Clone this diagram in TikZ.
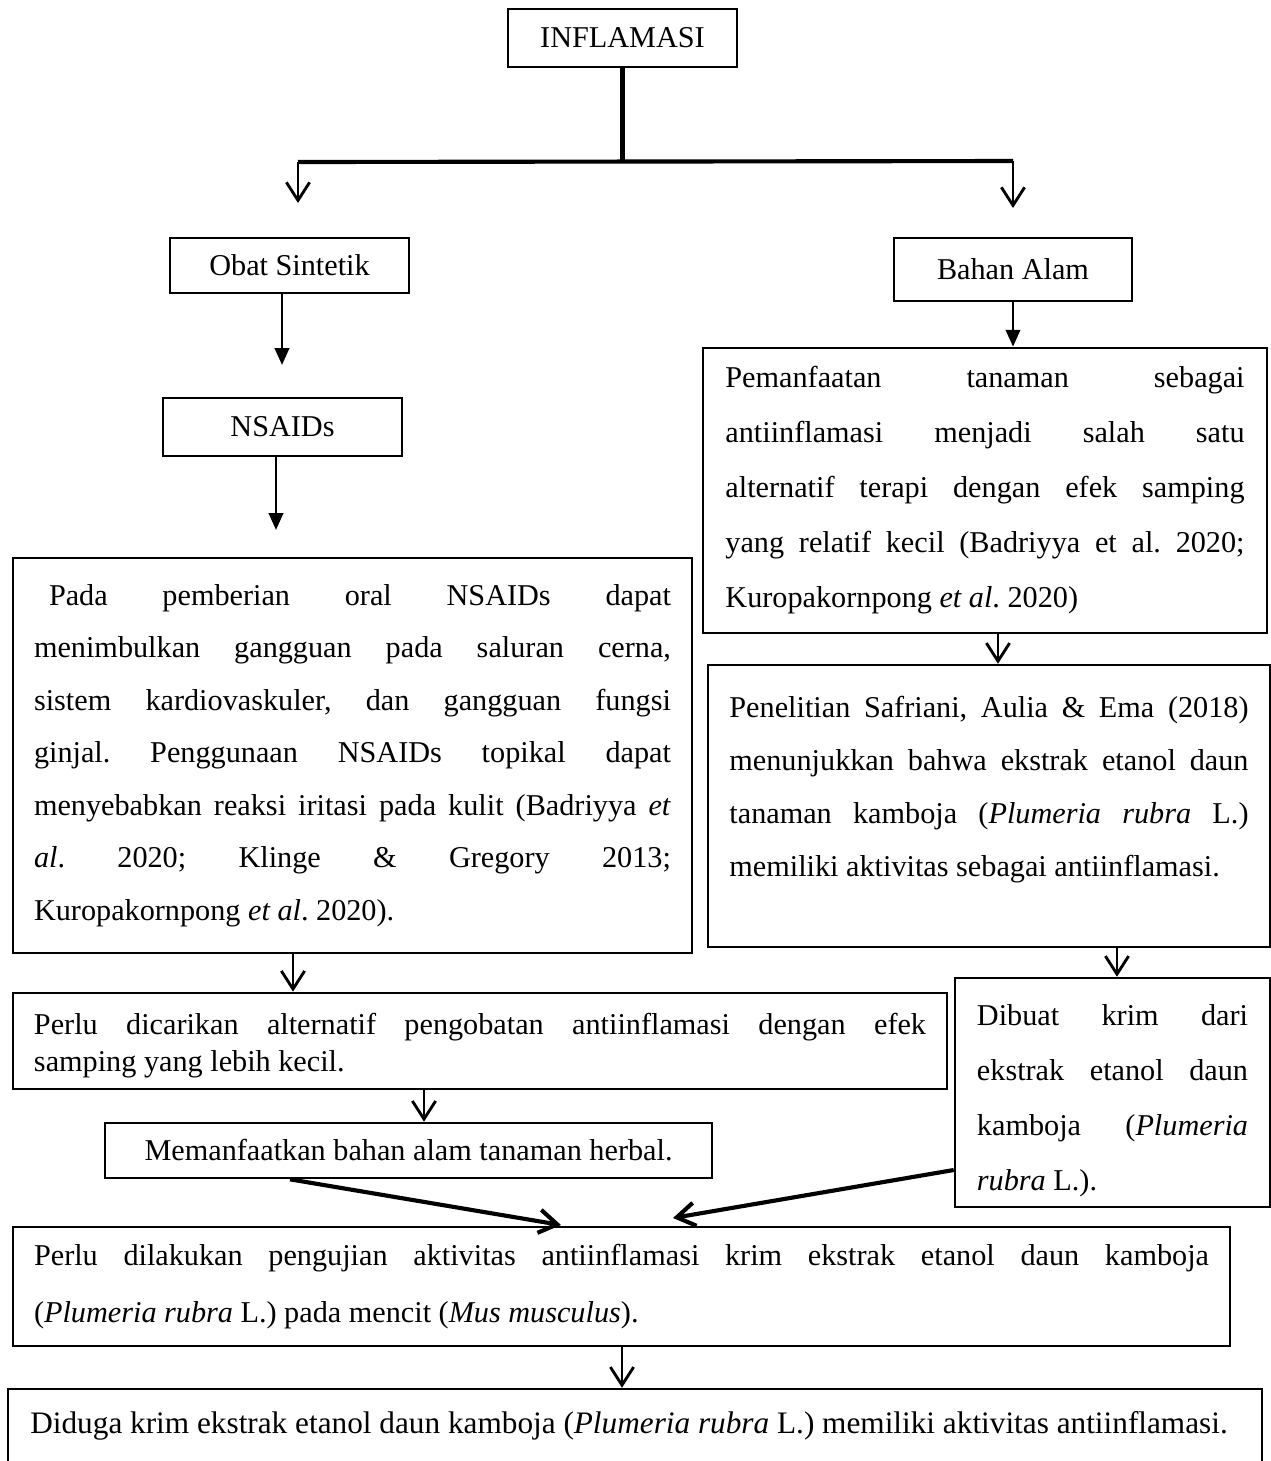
\documentclass[tikz,border=0pt]{standalone}
\usepackage{fontspec}
\setmainfont{Liberation Serif}
\usetikzlibrary{arrows.meta}
\hyphenpenalty=10000
\exhyphenpenalty=10000
\tolerance=9999
\AtBeginDocument{\frenchspacing}

\begin{document}
\begin{tikzpicture}[x=0.387pt,y=-0.387pt,
  font=\fontsize{11.7}{21.3}\selectfont,
  box/.style={draw,line width=1pt,inner sep=0pt,align=center},
  parbox/.style={draw,line width=1pt,inner sep=0pt,align=justify},
  arr/.style={line width=1.1pt,-{Straight Barb[length=7pt,width=9pt]}},
  arrf/.style={line width=1.1pt,-{Triangle[length=6.5pt,width=5.5pt]}},
  heavy/.style={line width=1.6pt}]
  \useasboundingbox (0,0) rectangle (1271,1461);

  % Top of the tree and the two branches.
  \node[box,minimum width=88.6pt,minimum height=22.4pt] (infl) at (622.5,38) {INFLAMASI};
  \node[box,minimum width=92.5pt,minimum height=21.3pt] (obat) at (289.5,265.5) {Obat Sintetik};
  \node[box,minimum width=92.5pt,minimum height=22.4pt] (nsaid) at (282.5,427) {NSAIDs};
  \node[box,minimum width=92.1pt,minimum height=24.4pt] (bahan) at (1013,269.5) {Bahan Alam};

  % Text boxes, line breaks kept as in the source.
  \node[parbox,minimum width=218.3pt,minimum height=110.3pt,text width=200.9pt] (manfaat) at (985,490.5)
    {Pemanfaatan tanaman sebagai\linebreak antiinflamasi menjadi salah satu\linebreak alternatif terapi dengan efek samping\linebreak yang relatif kecil (Badriyya et al. 2020;\linebreak Kuropakornpong \textit{et al}. 2020)};
  \node[parbox,minimum width=262.8pt,minimum height=152.9pt,text width=246.5pt,font=\fontsize{11.7}{20.3}\selectfont] (efek) at (352.5,755.5)
    {\hspace*{5.8pt}Pada pemberian oral NSAIDs dapat\linebreak menimbulkan gangguan pada saluran cerna,\linebreak sistem kardiovaskuler, dan gangguan fungsi\linebreak ginjal. Penggunaan NSAIDs topikal dapat\linebreak menyebabkan reaksi iritasi pada kulit (Badriyya \textit{et}\linebreak \textit{al}. 2020; Klinge \& Gregory 2013;\linebreak Kuropakornpong \textit{et al}. 2020).};
  \node[parbox,minimum width=217.5pt,minimum height=109.1pt,text width=200.9pt,font=\fontsize{11.7}{20.5}\selectfont] (teliti) at (989,806)
    {Penelitian Safriani, Aulia \& Ema (2018)\linebreak menunjukkan bahwa ekstrak etanol daun\linebreak tanaman kamboja (\textit{Plumeria rubra} L.)\linebreak memiliki aktivitas sebagai antiinflamasi.\rule[-15pt]{0pt}{15pt}};
  \node[parbox,minimum width=121.9pt,minimum height=88.6pt,text width=104.9pt] (dibuat) at (1112.5,1092.5)
    {\rule{0pt}{14.3pt}Dibuat krim dari\linebreak ekstrak etanol daun\linebreak kamboja (\textit{Plumeria}\linebreak \textit{rubra} L.).};
  \node[parbox,minimum width=361.5pt,minimum height=37.2pt,text width=345.2pt,font=\fontsize{11.7}{14.3}\selectfont] (dicari) at (480,1041)
    {\rule{0pt}{12pt}Perlu dicarikan alternatif pengobatan antiinflamasi dengan efek\linebreak samping yang lebih kecil.};
  \node[box,minimum width=234.9pt,minimum height=21.3pt] (herbal) at (408.5,1150.5) {Memanfaatkan bahan alam tanaman herbal.};
  \node[parbox,minimum width=471pt,minimum height=46.1pt,text width=454.7pt,font=\fontsize{11.7}{22}\selectfont] (uji) at (621.5,1286.5)
    {Perlu dilakukan pengujian aktivitas antiinflamasi krim ekstrak etanol daun kamboja\linebreak (\textit{Plumeria rubra} L.) pada mencit (\textit{Mus musculus}).};
  \node[parbox,minimum width=485.3pt,minimum height=28.6pt,text width=468pt,font=\fontsize{12.1}{21.3}\selectfont] (duga) at (635,1426)
    {Diduga krim ekstrak etanol daun kamboja (\textit{Plumeria rubra} L.) memiliki aktivitas antiinflamasi.};

  % Free ends and arrow columns.
  \coordinate (jl) at (298,162);
  \coordinate (jr) at (1013,161);
  \coordinate (tl) at (298,203);
  \coordinate (tr) at (1013,208);
  \coordinate (o1) at (282,365);
  \coordinate (n1) at (276,530);
  \coordinate (xa) at (998,0);
  \coordinate (xb) at (293,0);
  \coordinate (xc) at (1117,0);
  \coordinate (xd) at (424,0);
  \coordinate (xe) at (622,0);
  \coordinate (xf) at (290,0);
  \coordinate (d1) at (0,1170);
  \coordinate (t1) at (561,1225);
  \coordinate (t2) at (673,1218);

  \draw[heavy] (infl.south)--(infl.south |- jl);
  \draw[heavy] (jl)--(jr);
  \draw[arr] (jl)--(tl);
  \draw[arr] (jr)--(tr);
  \draw[arrf] (o1 |- obat.south)--(o1);
  \draw[arrf] (n1 |- nsaid.south)--(n1);
  \draw[arrf] (bahan.south)--(bahan.south |- manfaat.north);
  \draw[arr] (manfaat.south -| xa)--(teliti.north -| xa);
  \draw[arr] (efek.south -| xb)--(dicari.north -| xb);
  \draw[arr] (teliti.south -| xc)--(dibuat.north -| xc);
  \draw[arr] (dicari.south -| xd)--(herbal.north -| xd);
  \draw[arr,line width=1.6pt] (herbal.south -| xf)--(t1);
  \draw[arr,line width=1.6pt] (dibuat.west |- d1)--(t2);
  \draw[arr] (uji.south -| xe)--(duga.north -| xe);
\end{tikzpicture}
\end{document}
